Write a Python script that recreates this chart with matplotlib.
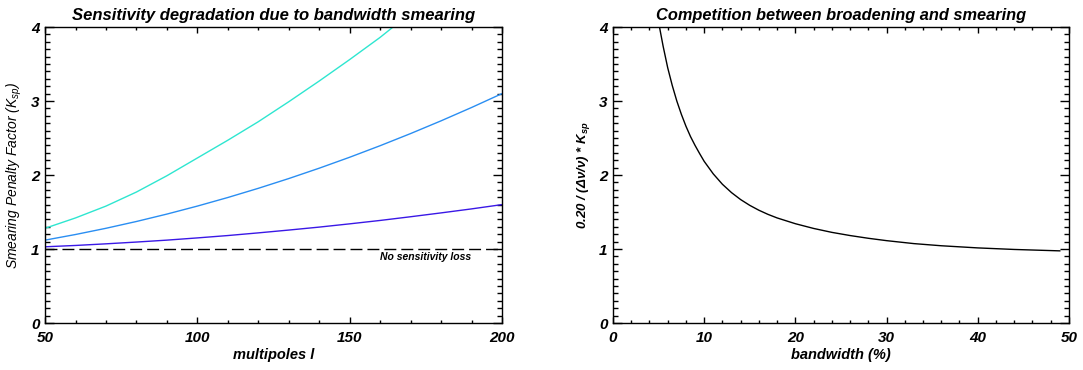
import matplotlib
matplotlib.use("Agg")
import matplotlib.pyplot as plt
from matplotlib.ticker import MultipleLocator

plt.rcParams["font.family"] = ["Liberation Sans", "DejaVu Sans"]
plt.rcParams["font.weight"] = "bold"
plt.rcParams["font.style"] = "italic"
plt.rcParams["axes.titleweight"] = "bold"
plt.rcParams["axes.labelweight"] = "bold"

# left panel: smearing penalty factor vs multipole, one curve per bandwidth
ELL = [50, 60, 70, 80, 90, 100, 110, 120, 130, 140, 150, 160, 170, 180, 190, 200]
K_LOW = [1.03, 1.048, 1.07, 1.094, 1.12, 1.15, 1.182, 1.218, 1.256, 1.296, 1.34, 1.386,
         1.436, 1.488, 1.542, 1.60]
K_MID = [1.12, 1.196, 1.28, 1.372, 1.472, 1.58, 1.696, 1.82, 1.952, 2.092, 2.24, 2.396,
         2.56, 2.732, 2.912, 3.10]
ELL_HIGH = [50, 60, 70, 80, 90, 100, 110, 120, 130, 140, 150, 160, 170]
K_HIGH = [1.28, 1.42, 1.58, 1.77, 1.99, 2.23, 2.47, 2.72, 2.99, 3.27, 3.56, 3.86, 4.19]
NO_LOSS_LEVEL = 1.0

# right panel: 0.20/(dnu/nu) * K_sp vs bandwidth (%)
BANDWIDTH = [4.8, 5.1, 5.5, 6, 6.5, 7, 7.5, 8, 8.5, 9, 9.5, 10, 11, 12, 13, 14, 15, 16, 17,
             18, 20, 22, 24, 26, 28, 30, 33, 36, 40, 44, 49]
COMPETITION = [4.25, 4.00, 3.74, 3.45, 3.21, 3.00, 2.82, 2.66, 2.52, 2.40, 2.29, 2.185, 2.015,
               1.875, 1.762, 1.668, 1.590, 1.524, 1.468, 1.420, 1.342, 1.278, 1.225, 1.182,
               1.145, 1.113, 1.073, 1.044, 1.015, 0.994, 0.975]

COLOR_LOW = "#3a18e6"
COLOR_MID = "#2a8ef2"
COLOR_HIGH = "#2ee6d0"


def idl_axes(ax, xmajor, xminor):
    ax.xaxis.set_major_locator(MultipleLocator(xmajor))
    ax.xaxis.set_minor_locator(MultipleLocator(xminor))
    ax.yaxis.set_major_locator(MultipleLocator(1))
    ax.yaxis.set_minor_locator(MultipleLocator(0.1))
    ax.tick_params(axis="both", which="both", direction="in", top=True, right=True,
                   width=1.0, labelsize=11)
    ax.tick_params(axis="y", which="major", length=6.5, pad=4)
    ax.tick_params(axis="y", which="minor", length=3.3)
    ax.tick_params(axis="x", which="major", length=4.3, pad=6)
    ax.tick_params(axis="x", which="minor", length=2.2)
    for sp in ax.spines.values():
        sp.set_linewidth(1.0)


fig = plt.figure(figsize=(10.83, 3.70), dpi=100)
ax1 = fig.add_axes([0.0416, 0.127, 0.4219, 0.800])
ax2 = fig.add_axes([0.566, 0.127, 0.421, 0.800])

ax1.plot(ELL_HIGH, K_HIGH, color=COLOR_HIGH, lw=1.0)
ax1.plot(ELL, K_MID, color=COLOR_MID, lw=1.0)
ax1.plot(ELL, K_LOW, color=COLOR_LOW, lw=1.0)
ax1.axhline(NO_LOSS_LEVEL, color="black", lw=1.0, ls=(0, (8.6, 3.6)))
ax1.text(190, 0.89, "No sensitivity loss", fontsize=7.5, ha="right", va="center")
ax1.set_xlim(50, 200)
ax1.set_ylim(0, 4)
idl_axes(ax1, 50, 10)
ax1.set_title("Sensitivity degradation due to bandwidth smearing", fontsize=12, pad=5)
ax1.set_xlabel("multipoles l", fontsize=10.5, labelpad=2)
ax1.set_ylabel(r"Smearing Penalty Factor (K$_{\mathregular{sp}}$)", fontsize=10,
               fontweight="normal")
ax1.yaxis.set_label_coords(-0.046, 0.5)

ax2.plot(BANDWIDTH, COMPETITION, color="black", lw=1.0)
ax2.set_xlim(0, 50)
ax2.set_ylim(0, 4)
idl_axes(ax2, 10, 2)
ax2.set_title("Competition between broadening and smearing", fontsize=11.8, pad=5)
ax2.set_xlabel("bandwidth (%)", fontsize=10.5, labelpad=2)
ax2.set_ylabel(r"0.20 / (Δν/ν) * K$_{\mathregular{sp}}$", fontsize=9.5)
ax2.yaxis.set_label_coords(-0.046, 0.5)

fig.savefig("out.png", dpi=100)
